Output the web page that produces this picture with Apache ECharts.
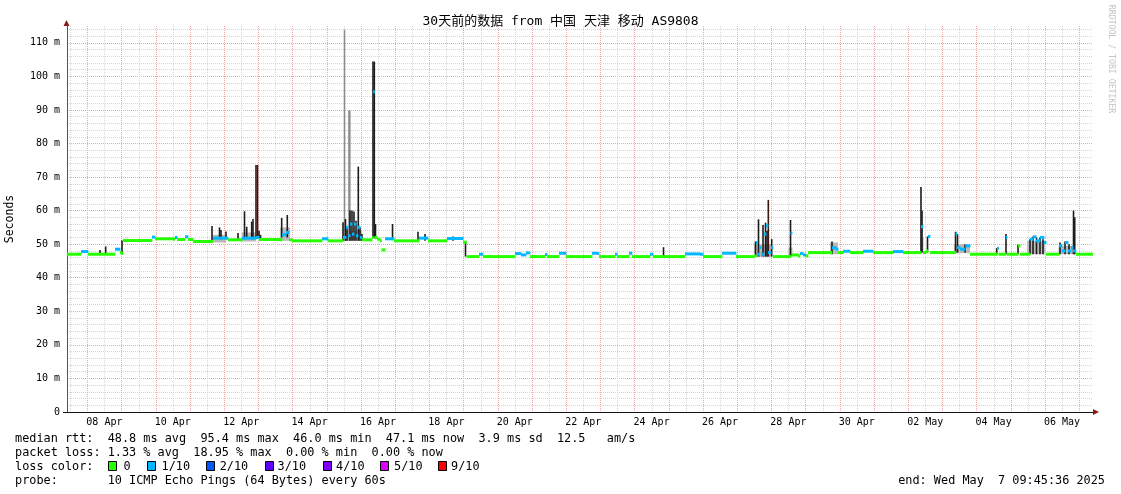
<!DOCTYPE html>
<html><head><meta charset="utf-8">
<script src="https://cdn.jsdelivr.net/npm/echarts@6/dist/echarts.min.js"></script>
<style>html,body{margin:0;padding:0;background:#fff}#c{width:1121px;height:494px}</style>
</head><body><div id="c"></div>
<script>
// time unit: days since Apr 7 00:00 (local)
const START_DAY = 0.4067;   // Apr 7 09:45:36
const END_DAY = 30.4067;    // May 7 09:45:36
const Y_MAX = 115;

const xLabelDays = [1.5, 3.5, 5.5, 7.5, 9.5, 11.5, 13.5, 15.5, 17.5, 19.5, 21.5, 23.5, 25.5, 27.5, 29.5];
const xLabelText = ['08 Apr','10 Apr','12 Apr','14 Apr','16 Apr','18 Apr','20 Apr','22 Apr','24 Apr','26 Apr','28 Apr','30 Apr','02 May','04 May','06 May'];

// median rtt (ms) breakpoints [day, ms]
const median = [
[0.407,47.0],[0.728,47.0],[0.816,47.8],[0.962,47.8],[1.021,47.0],[1.722,47.0],[1.810,48.5],[1.898,48.5],[1.956,47.5],[2.000,47.3],
[2.044,51.1],[2.833,51.1],[2.892,52.1],[2.980,51.6],[3.506,51.5],[3.565,52.0],[3.623,51.4],[3.799,51.4],[3.857,52.2],[3.945,51.4],
[4.091,50.8],[4.588,50.8],[4.676,51.8],[5.056,51.8],[5.114,51.3],[5.465,51.3],[5.524,51.8],[5.933,52.0],[6.021,51.4],[6.635,51.3],
[6.693,52.8],[6.810,53.5],[6.898,51.3],[6.986,51.0],[7.804,51.0],[7.863,51.6],[7.980,51.6],[8.038,51.0],[8.448,51.0],[8.477,52.0],
[8.565,55.0],[8.623,52.5],[8.681,56.0],[8.740,53.0],[8.798,56.0],[8.857,52.5],[8.915,55.0],[8.974,52.0],[9.032,51.3],[9.325,52.0],
[9.360,95.4],[9.398,52.0],[9.471,51.5],[9.559,51.0],[9.603,48.3],[9.661,48.3],[9.705,51.6],[9.910,51.6],[9.968,51.0],[10.641,51.0],
[10.699,51.8],[10.904,51.8],[10.962,51.0],[11.460,51.0],[11.518,51.7],[11.927,51.7],[11.986,50.6],[12.088,46.3],[12.395,46.3],[12.453,47.0],
[12.512,47.0],[12.570,46.3],[13.418,46.3],[13.506,47.2],[13.682,46.8],[13.828,47.4],[13.945,46.3],[14.325,46.3],[14.383,46.9],[14.442,46.3],
[14.734,46.3],[14.793,47.3],[14.939,47.3],[14.997,46.3],[15.670,46.3],[15.758,47.3],[15.904,47.2],[15.962,46.3],[16.372,46.3],[16.430,47.0],
[16.489,46.3],[16.752,46.3],[16.840,47.3],[16.927,46.3],[17.366,46.3],[17.454,47.0],[17.541,46.3],[18.390,46.3],[18.477,47.1],[18.916,47.0],
[19.003,46.3],[19.471,46.3],[19.559,47.3],[19.881,47.3],[19.969,46.3],[20.436,46.3],[20.495,46.5],[20.553,50.5],[20.597,47.0],[20.641,49.0],
[20.699,47.0],[20.787,53.0],[20.845,55.5],[20.904,47.5],[20.992,49.0],[21.050,46.3],[21.518,46.3],[21.562,53.3],[21.606,46.8],[21.781,46.5],
[21.840,47.2],[21.927,46.8],[22.015,46.5],[22.073,47.5],[22.717,47.5],[22.775,48.9],[22.892,48.5],[22.951,47.5],[23.098,47.9],[23.302,47.5],
[23.682,47.9],[23.975,47.5],[24.559,47.8],[24.852,47.5],[25.319,47.5],[25.377,55.2],[25.436,47.5],[25.523,48.0],[25.582,52.3],[25.641,47.5],
[26.343,47.5],[26.387,53.0],[26.430,49.0],[26.518,48.5],[26.665,49.5],[26.811,47.0],[27.571,47.0],[27.600,48.8],[27.644,47.0],[27.834,47.0],
[27.863,52.0],[27.892,47.0],[28.155,47.0],[28.214,49.5],[28.273,47.0],[28.477,47.0],[28.565,51.5],[28.653,52.2],[28.740,51.0],[28.857,52.0],
[28.974,50.5],[29.033,47.0],[29.354,47.0],[29.413,49.5],[29.501,48.0],[29.588,50.5],[29.676,48.0],[29.764,49.0],[29.822,48.0],[29.910,47.0],
[30.407,47.1]
];

// periods with 1/10 packet loss [fromDay, toDay]
const lossOne = [
[0.80,0.99],[1.80,1.90],[2.88,2.97],[3.56,3.57],[3.85,3.86],[4.67,5.06],[5.52,5.94],[6.69,6.82],[7.86,7.99],[8.47,8.98],
[9.35,9.37],[9.70,9.92],[10.69,10.91],[11.51,11.93],[12.45,12.52],[13.50,13.83],[14.38,14.39],[14.79,14.94],[15.75,15.91],[16.42,16.44],
[16.83,16.85],[17.45,17.46],[18.47,18.92],[19.55,19.89],[20.55,21.00],[21.56,21.57],[21.83,21.93],[22.77,22.90],[23.09,23.10],[23.68,23.69],
[24.55,24.56],[25.37,25.38],[25.58,25.59],[26.38,26.67],[27.59,27.61],[27.86,27.87],[28.56,28.98],[29.41,29.83]
];

// smoke ranges [fromDay, toDay, lowMs, highMs]
const smoke = [
[4.68,5.06,50.5,52.8],[5.52,5.93,50.8,53.5],[6.64,6.93,51.0,55.0],[8.48,9.03,51.0,54.0],[20.50,21.01,46.2,50.0],
[21.50,21.62,46.3,49.0],[22.72,22.95,47.0,50.5],[25.37,25.45,47.3,52.0],[26.35,26.81,47.3,50.0],[28.48,29.00,47.0,51.0],[29.40,29.88,47.0,49.5]
];

// dense ping spikes [day, lowMs, highMs]
const spikesDark = [
[1.372,47.0,48.3],[1.538,47.0,49.3],[2.015,47.0,51.1],
[4.647,51.0,55.4],[4.866,51.5,55.0],[4.910,51.5,54.2],[5.056,51.5,53.8],[5.407,51.0,53.3],[5.597,51.5,59.8],[5.661,51.5,55.2],
[5.807,51.5,56.7],[5.845,51.5,57.5],[6.021,51.5,54.0],[6.065,51.5,52.8],[6.684,52.0,57.8],[6.848,52.0,58.7],
[8.477,51.0,56.5],[8.550,51.0,57.5],[8.594,51.0,55.0],[8.681,51.0,60.0],[8.740,51.0,60.0],[8.798,51.0,59.7],[8.857,51.0,57.0],
[8.924,51.0,73.1],[8.974,51.0,55.0],[9.032,51.0,53.0],[9.354,52.0,104.4],[9.392,52.0,104.4],[9.427,51.5,56.0],[9.925,51.5,56.0],
[10.670,51.0,53.7],[10.875,51.0,53.0],[11.694,51.0,52.3],[12.059,46.3,50.6],[17.849,46.3,49.1],
[20.539,46.3,50.8],[20.626,46.3,57.4],[20.758,46.3,55.7],[20.831,46.3,56.4],[20.875,46.3,54.0],[21.012,46.3,51.5],[21.562,46.3,57.2],
[22.775,47.0,50.8],[25.377,47.5,67.0],[25.407,47.5,60.0],[25.568,47.5,52.3],[26.387,47.5,53.7],[26.445,47.5,53.0],[26.665,47.5,50.0],
[27.591,47.0,48.8],[27.863,47.0,53.0],[28.214,47.0,49.8],[28.565,47.0,51.5],[28.653,47.0,52.3],[28.755,47.0,52.0],[28.857,47.0,52.0],
[28.945,47.0,51.5],[29.442,47.0,50.5],[29.588,47.0,50.8],[29.705,47.0,50.0],[29.837,47.0,60.0],[29.872,47.0,58.0]
];
const spikesBrown = [[5.933,52.0,73.6],[5.977,52.0,73.6],[20.913,46.3,63.2]];
const spikesGray = [[8.521,51.0,113.9],[8.652,51.0,89.8],[8.675,51.0,89.8]];

const legendLines = [
  'median rtt:  48.8 ms avg  95.4 ms max  46.0 ms min  47.1 ms now  3.9 ms sd  12.5   am/s',
  'packet loss: 1.33 % avg  18.95 % max  0.00 % min  0.00 % now',
  'loss color:',
  'probe:       10 ICMP Echo Pings (64 Bytes) every 60s'
];
const lossLabels = ['0','1/10','2/10','3/10','4/10','5/10','9/10'];
const lossColors = ['#26ff00','#00b8ff','#0059ff','#5e00ff','#7e00ff','#dd00ff','#ff0000'];

const MONO = "'DejaVu Sans Mono', 'Noto Sans CJK SC', monospace";
const chart = echarts.init(document.getElementById('c'), null, {renderer: 'canvas'});

const PLOT_L = 67, PLOT_R = 28, PLOT_T = 26, PLOT_B = 82;

// vertical grid: every 12 h, major at midnight
const vGridDays = [];
for (let k = Math.ceil(START_DAY * 2); k <= Math.floor(END_DAY * 2); k++) vGridDays.push([k / 2, 0]);

function inLoss(d) { return lossOne.some(r => d >= r[0] - 1e-6 && d < r[1]); }

function spikeSeries(data, color, z) {
  return {
    type: 'custom', xAxisIndex: 0, yAxisIndex: 0, clip: true, z: z, silent: true,
    encode: {x: 0, y: [1, 2]}, data: data,
    renderItem: function (params, api) {
      const top = api.coord([api.value(0), api.value(2)]);
      const bot = api.coord([api.value(0), api.value(1)]);
      return {type: 'rect', shape: {x: top[0] - 0.8, y: top[1], width: 1.6, height: bot[1] - top[1]}, style: {fill: color}};
    }
  };
}

const textStyle = (t, x, y, size, align, extra) => Object.assign({
  type: 'text', x: x, y: y, silent: true,
  style: {text: t, font: size + 'px ' + MONO, fill: '#000', align: align, textAlign: align, verticalAlign: 'middle', textVerticalAlign: 'middle'}
}, extra || {});

const graphics = [];
graphics.push(textStyle('30天前的数据 from 中国 天津 移动 AS9808', 560.5, 22, 13, 'center'));
graphics.push(textStyle('Seconds', 10.5, 219, 11.5, 'center', {rotation: Math.PI / 2}));
const rr = textStyle('RRDTOOL / TOBI OETIKER', 1111, 59, 8.2, 'center', {rotation: -Math.PI / 2});
rr.style.fill = '#c4c4c4';
graphics.push(rr);
const lineY = [438.5, 452.5, 466.5, 480.5];
legendLines.forEach((t, i) => graphics.push(textStyle(t, 15, lineY[i], 11.85, 'left')));
graphics.push(textStyle('end: Wed May  7 09:45:36 2025', 1105, 480.5, 11.85, 'right'));
const sqX = [108, 147, 206, 265, 323, 380, 438];
const lbX = [123.5, 161.5, 219.7, 277.5, 336, 394, 451];
lossLabels.forEach((l, i) => {
  graphics.push({type: 'rect', silent: true, shape: {x: sqX[i] + 0.5, y: 461.5, width: 8, height: 9}, style: {fill: lossColors[i], stroke: '#000', lineWidth: 1}});
  graphics.push(textStyle(l, lbX[i], 466.5, 11.85, 'left'));
});
// axis arrows and short axis extension
graphics.push({type: 'polygon', silent: true, shape: {points: [[63.5, 26], [69.5, 26], [66.5, 20]]}, style: {fill: '#8b1c1c'}});
graphics.push({type: 'polygon', silent: true, shape: {points: [[1093, 409], [1093, 415], [1099, 412]]}, style: {fill: '#8b1c1c'}});
graphics.push({type: 'line', silent: true, shape: {x1: 63, y1: 412.5, x2: 67, y2: 412.5}, style: {stroke: '#111', lineWidth: 1}});

const MINOR = '#d6d6d6', MAJOR = '#f4a4a4';
const minorLine = {show: true, showMinLine: false, showMaxLine: false, lineStyle: {color: MINOR, width: 1, type: [1, 1]}};
const majorLine = {show: true, showMinLine: false, showMaxLine: false, lineStyle: {color: MAJOR, width: 1, type: [1, 1]}};

const option = {
  animation: false,
  backgroundColor: '#ffffff',
  grid: [{left: PLOT_L, right: PLOT_R, top: PLOT_T, bottom: PLOT_B, containLabel: false, outerBoundsMode: 'none'}],
  xAxis: [
    {type: 'value', min: START_DAY, max: END_DAY, z: 3,
     axisLine: {show: true, onZero: false, lineStyle: {color: '#111', width: 1}},
     axisTick: {show: false}, splitLine: {show: false},
     axisLabel: {show: true, customValues: xLabelDays, margin: 5, color: '#000', fontFamily: MONO, fontSize: 10,
       formatter: v => { let k = 0, best = 1e9; xLabelDays.forEach((d, i) => { if (Math.abs(d - v) < best) { best = Math.abs(d - v); k = i; } }); return xLabelText[k]; }}}
  ],
  yAxis: [
    {type: 'value', min: 0, max: Y_MAX, interval: 10, z: 1,
     axisLine: {show: true, onZero: false, lineStyle: {color: '#555', width: 1}},
     axisTick: {show: false}, splitLine: majorLine,
     axisLabel: {color: '#000', fontFamily: MONO, fontSize: 10, margin: 7,
       formatter: v => (v % 10 !== 0 ? '' : (v === 0 ? '0' : v + ' m'))}},
    {type: 'value', min: 0, max: Y_MAX, interval: 2, z: 0, position: 'left',
     axisLine: {show: false}, axisTick: {show: false}, axisLabel: {show: false}, splitLine: minorLine}
  ],
  series: [
    {type: 'custom', xAxisIndex: 0, yAxisIndex: 0, clip: true, z: 1, silent: true,
     encode: {x: 0, y: 1}, data: vGridDays,
     renderItem: function (params, api) {
       const d = api.value(0);
       const top = api.coord([d, Y_MAX]), bot = api.coord([d, 0]);
       const x = Math.round(top[0]) + 0.5;
       const major = Math.abs(d - Math.round(d)) < 1e-6;
       return {type: 'line', shape: {x1: x, y1: top[1], x2: x, y2: bot[1]},
               style: {stroke: major ? MAJOR : MINOR, lineWidth: 1, lineDash: [1, 1]}, z2: major ? 2 : 1};
     }},
    {type: 'custom', xAxisIndex: 0, yAxisIndex: 0, clip: true, z: 2, silent: true,
     encode: {x: [0, 1], y: [2, 3]}, data: smoke,
     renderItem: function (params, api) {
       const a = api.coord([api.value(0), api.value(3)]);
       const b = api.coord([api.value(1), api.value(2)]);
       return {type: 'rect', shape: {x: a[0], y: a[1], width: b[0] - a[0], height: b[1] - a[1]}, style: {fill: '#b9b9b9'}};
     }},
    spikeSeries(spikesGray, '#8c8c8c', 3),
    spikeSeries(spikesDark, '#1c1c1c', 4),
    spikeSeries(spikesBrown, '#3d1616', 4),
    {type: 'custom', xAxisIndex: 0, yAxisIndex: 0, clip: true, z: 5, silent: true,
     encode: {x: 0, y: 1}, data: median,
     renderItem: function (params, api) {
       const i = params.dataIndex;
       if (i >= median.length - 1) return null;
       const d0 = median[i][0], v = median[i][1], d1 = median[i + 1][0];
       const a = api.coord([d0, v]), b = api.coord([d1, v]);
       return {type: 'rect', shape: {x: a[0], y: a[1] - 1.5, width: Math.max(b[0] - a[0], 0.8) + 0.4, height: 3},
               style: {fill: inLoss(d0) ? '#00b8ff' : '#26ff00'}};
     }}
  ],
  graphic: {elements: graphics}
};
chart.setOption(option);
</script>
</body></html>
